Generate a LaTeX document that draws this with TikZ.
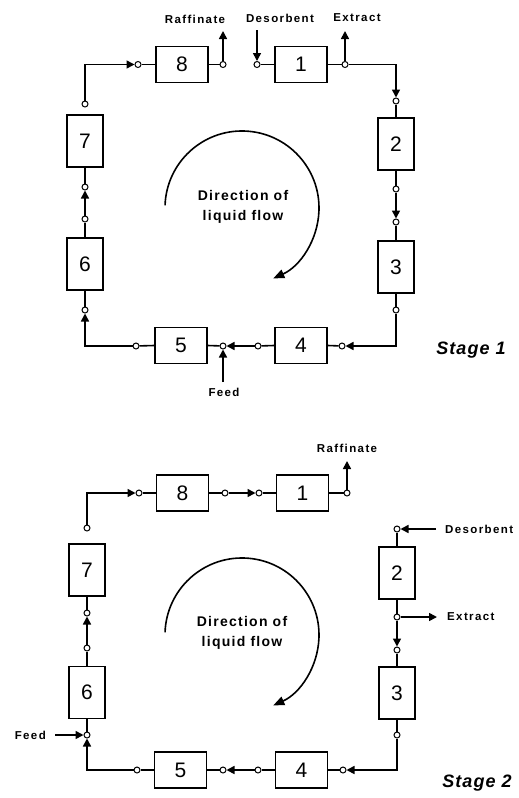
\documentclass[tikz,border=0pt]{standalone}
\usepackage{fontspec}
\setmainfont{Liberation Sans}
\newfontfamily\lblfont{Liberation Sans}[LetterSpace=12]
\newfontfamily\dirfont{Liberation Sans}[LetterSpace=9]
\newfontfamily\stgfont{Liberation Sans}[LetterSpace=6]
\usetikzlibrary{arrows.meta}
\tikzset{
  hbox/.style={draw, line width=1.6pt, minimum width=52pt, minimum height=36pt, inner sep=0pt, font=\fontsize{21}{21}\selectfont},
  vbox/.style={draw, line width=1.6pt, minimum width=36pt, minimum height=52pt, inner sep=0pt, font=\fontsize{21}{21}\selectfont},
  port/.style={circle, draw, fill=white, line width=1pt, minimum size=6pt, inner sep=0pt},
  pipe/.style={line width=1.6pt},
  flow/.style={pipe, -{Triangle[length=8pt,width=8pt]}},
  lbl/.style={font=\lblfont\bfseries\fontsize{11.5}{13}\selectfont, inner sep=0pt},
  dirlbl/.style={font=\dirfont\bfseries\fontsize{14}{20}\selectfont, align=center, inner sep=0pt},
  stglbl/.style={font=\stgfont\bfseries\itshape\fontsize{18}{20}\selectfont, inner sep=0pt},
  swirl/.style={line width=1.6pt, -{Triangle[length=11pt,width=9pt]}}
}
\begin{document}
\begin{tikzpicture}[x=1pt,y=-1pt]
\fill[white] (0,0) rectangle (519,798);
\useasboundingbox (0,0) rectangle (519,798);

% ================= Stage 1 =================
\node[hbox] (s1b8) at (182,64.5) {8};
\node[hbox] (s1b1) at (301,64.5) {1};
\node[vbox] (s1b7) at (85,141) {7};
\node[vbox] (s1b6) at (85,264) {6};
\node[vbox] (s1b2) at (396,144) {2};
\node[vbox] (s1b3) at (396,267) {3};
\node[hbox] (s1b5) at (181,345.5) {5};
\node[hbox] (s1b4) at (301,345.5) {4};

\node[port] (s1p8in) at (138,64.5) {};
\node[port] (s1p8out) at (223,64.5) {};
\node[port] (s1p1in) at (257,64.5) {};
\node[port] (s1p1out) at (345,64.5) {};
\node[port] (s1p2in) at (396,101) {};
\node[port] (s1p2out) at (396,189) {};
\node[port] (s1p3in) at (396,222) {};
\node[port] (s1p3out) at (396,310) {};
\node[port] (s1p4in) at (342,346) {};
\node[port] (s1p4out) at (258,346) {};
\node[port] (s1p5in) at (223,346) {};
\node[port] (s1p5out) at (136,346) {};
\node[port] (s1p6in) at (85,310) {};
\node[port] (s1p6out) at (85,219) {};
\node[port] (s1p7in) at (85,187) {};
\node[port] (s1p7out) at (85,104) {};

\coordinate (s1raf) at (223,31);
\coordinate (s1des) at (257,30);
\coordinate (s1ext) at (345,31);
\coordinate (s1feed) at (223,382);

\node[lbl] (s1rafl) at (195,19) {Raffinate};
\node[lbl] (s1desl) at (280,18) {Desorbent};
\node[lbl] (s1extl) at (357,18) {Extract};
\node[lbl] (s1feedl) at (224,392) {Feed};
\node[stglbl] (s1stage) at (471,350) {Stage 1};
\node[dirlbl] (s1dir) at (243,207) {Direction of\\liquid flow};

% ring
\draw[flow] (s1p7out) |- (s1p8in);
\draw[pipe] (s1p8in) -- (s1b8.west);
\draw[pipe] (s1b8.east) -- (s1p8out);
\draw[flow] (s1p8out) -- (s1raf);
\draw[flow] (s1des) -- (s1p1in);
\draw[pipe] (s1p1in) -- (s1b1.west);
\draw[pipe] (s1b1.east) -- (s1p1out);
\draw[flow] (s1p1out) -- (s1ext);
\draw[flow] (s1p1out) -| (s1p2in);
\draw[pipe] (s1p2in) -- (s1b2.north);
\draw[pipe] (s1b2.south) -- (s1p2out);
\draw[flow] (s1p2out) -- (s1p3in);
\draw[pipe] (s1p3in) -- (s1b3.north);
\draw[pipe] (s1b3.south) -- (s1p3out);
\draw[flow] (s1p3out) |- (s1p4in);
\draw[pipe] (s1p4in) -- (s1b4.east);
\draw[pipe] (s1b4.west) -- (s1p4out);
\draw[flow] (s1p4out) -- (s1p5in);
\draw[flow] (s1feed) -- (s1p5in);
\draw[pipe] (s1p5in) -- (s1b5.east);
\draw[pipe] (s1b5.west) -- (s1p5out);
\draw[flow] (s1p5out) -| (s1p6in);
\draw[pipe] (s1p6in) -- (s1b6.south);
\draw[pipe] (s1b6.north) -- (s1p6out);
\draw[flow] (s1p6out) -- (s1p7in);
\draw[pipe] (s1p7in) -- (s1b7.south);

% direction arc
\coordinate (s1arc) at (165.05,205.3);
\draw[swirl] (s1arc) arc[start angle=182, end angle=426, radius=77];

% ================= Stage 2 =================
\node[hbox] (s2b8) at (182.5,493) {8};
\node[hbox] (s2b1) at (302.5,493) {1};
\node[vbox] (s2b7) at (87,570) {7};
\node[vbox] (s2b6) at (87,692.5) {6};
\node[vbox] (s2b2) at (397,573) {2};
\node[vbox] (s2b3) at (397,693) {3};
\node[hbox] (s2b5) at (180.5,770) {5};
\node[hbox] (s2b4) at (301.5,770) {4};

\node[port] (s2p8in) at (139,493) {};
\node[port] (s2p8out) at (225,493) {};
\node[port] (s2p1in) at (259,493) {};
\node[port] (s2p1out) at (347,493) {};
\node[port] (s2p2in) at (397,529) {};
\node[port] (s2p2out) at (397,617) {};
\node[port] (s2p3in) at (397,650) {};
\node[port] (s2p3out) at (397,735) {};
\node[port] (s2p4in) at (343,770) {};
\node[port] (s2p4out) at (258,770) {};
\node[port] (s2p5in) at (223,770) {};
\node[port] (s2p5out) at (137,770) {};
\node[port] (s2p6in) at (87,735) {};
\node[port] (s2p6out) at (87,648) {};
\node[port] (s2p7in) at (87,613) {};
\node[port] (s2p7out) at (87,528) {};

\coordinate (s2raf) at (347,461);
\coordinate (s2des) at (436,529);
\coordinate (s2ext) at (437,617);
\coordinate (s2feed) at (55,735);

\node[lbl] (s2rafl) at (347,448) {Raffinate};
\node[lbl, anchor=west] (s2desl) at (445,529) {Desorbent};
\node[lbl, anchor=west] (s2extl) at (447,617) {Extract};
\node[lbl, anchor=east] (s2feedl) at (46,735) {Feed};
\node[stglbl] (s2stage) at (477,783) {Stage 2};
\node[dirlbl] (s2dir) at (242,633) {Direction of\\liquid flow};

\draw[flow] (s2p7out) |- (s2p8in);
\draw[pipe] (s2p8in) -- (s2b8.west);
\draw[pipe] (s2b8.east) -- (s2p8out);
\draw[flow] (s2p8out) -- (s2p1in);
\draw[pipe] (s2p1in) -- (s2b1.west);
\draw[pipe] (s2b1.east) -- (s2p1out);
\draw[flow] (s2p1out) -- (s2raf);
\draw[flow] (s2des) -- (s2p2in);
\draw[pipe] (s2p2in) -- (s2b2.north);
\draw[pipe] (s2b2.south) -- (s2p2out);
\draw[flow] (s2p2out) -- (s2ext);
\draw[flow] (s2p2out) -- (s2p3in);
\draw[pipe] (s2p3in) -- (s2b3.north);
\draw[pipe] (s2b3.south) -- (s2p3out);
\draw[flow] (s2p3out) |- (s2p4in);
\draw[pipe] (s2p4in) -- (s2b4.east);
\draw[pipe] (s2b4.west) -- (s2p4out);
\draw[flow] (s2p4out) -- (s2p5in);
\draw[pipe] (s2p5in) -- (s2b5.east);
\draw[pipe] (s2b5.west) -- (s2p5out);
\draw[flow] (s2p5out) -| (s2p6in);
\draw[flow] (s2feed) -- (s2p6in);
\draw[pipe] (s2p6in) -- (s2b6.south);
\draw[pipe] (s2b6.north) -- (s2p6out);
\draw[flow] (s2p6out) -- (s2p7in);
\draw[pipe] (s2p7in) -- (s2b7.south);

\coordinate (s2arc) at (165.05,632.3);
\draw[swirl] (s2arc) arc[start angle=182, end angle=426, radius=77];
\end{tikzpicture}
\end{document}
